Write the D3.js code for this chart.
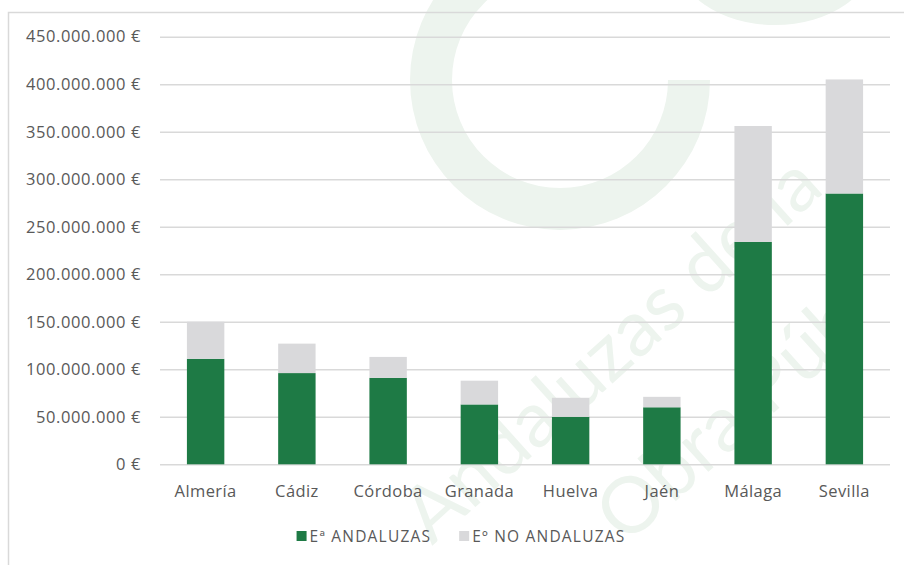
<!DOCTYPE html>
<html>
<head>
<meta charset="utf-8">
<script src="https://cdn.jsdelivr.net/npm/d3@7"></script>
<style>
  body { margin: 0; background: #fff; }
  svg { display: block; }
  text { font-family: "Open Sans", Lato, sans-serif; fill: #595959; }
</style>
</head>
<body>
<div id="chart"></div>
<script>
// provinces
const categories = ["Almería", "Cádiz", "Córdoba", "Granada", "Huelva", "Jaén", "Málaga", "Sevilla"];
// Eª ANDALUZAS (euros)
const andaluzas = [111000000, 96000000, 91000000, 63000000, 50000000, 60000000, 234000000, 285000000];
// Eº NO ANDALUZAS (euros)
const noAndaluzas = [39000000, 31000000, 22000000, 25000000, 20000000, 11000000, 122000000, 120000000];
const seriesNames = ["Eª ANDALUZAS", "Eº NO ANDALUZAS"];
const yTicks = [0, 50000000, 100000000, 150000000, 200000000, 250000000, 300000000, 350000000, 400000000, 450000000];

const W = 904, H = 565;
const colors = ["#1e7a45", "#d9d9db"];
const wmColor = "#edf4ee";

const svg = d3.select("#chart").append("svg")
    .attr("width", W)
    .attr("height", H);

// faint watermark behind the chart (logo "C" + lettering)
const wm = svg.append("g");
wm.append("path")
    .attr("transform", "translate(560,80)")
    .attr("d", d3.arc().innerRadius(108).outerRadius(150).startAngle(Math.PI / 2).endAngle(2 * Math.PI)())
    .attr("fill", wmColor);
wm.append("ellipse")
    .attr("cx", 775).attr("cy", -45).attr("rx", 100).attr("ry", 70)
    .attr("fill", wmColor);
wm.selectAll("text.wm")
  .data([{t: "Andaluzas de la", x: 432, y: 546}, {t: "Obra Púb", x: 626, y: 546}])
  .join("text")
    .attr("class", "wm")
    .attr("transform", d => `translate(${d.x},${d.y}) rotate(-42)`)
    .style("font-size", "78px").style("fill", wmColor).style("font-family", "Lato, sans-serif")
    .text(d => d.t);

// chart border
svg.append("rect")
    .attr("x", 8.5).attr("y", 12.5)
    .attr("width", 905).attr("height", 560)
    .attr("fill", "none")
    .attr("stroke", "#d9d9d9")
    .attr("stroke-width", 1.5);

const margin = {top: 36.7, left: 160, right: 14, bottom: 100.7};

const x = d3.scaleBand()
    .domain(categories)
    .range([margin.left, W - margin.right])
    .paddingInner(0.59)
    .paddingOuter(0.295);

const y = d3.scaleLinear()
    .domain([0, 450000000])
    .range([H - margin.bottom, margin.top]);

const fmt = (v) => d3.format(",")(v).replace(/,/g, ".") + " €";

// gridlines
svg.append("g")
    .attr("transform", `translate(${margin.left},0)`)
    .call(d3.axisLeft(y).tickValues(yTicks).tickSize(-(W - margin.right - margin.left)).tickFormat(""))
    .call(g => g.select(".domain").remove())
    .call(g => g.selectAll("line").attr("stroke", "#d9d9d9").attr("stroke-width", 1.5));

// y axis labels
svg.append("g")
    .attr("transform", `translate(${margin.left},0)`)
    .call(d3.axisLeft(y).tickValues(yTicks).tickSize(0).tickPadding(19).tickFormat(fmt))
    .call(g => g.select(".domain").remove())
    .call(g => g.selectAll("text")
        .attr("font-family", null)
        .style("font-size", "16.5px").style("letter-spacing", "0.6px").attr("fill", "#595959"));

// stacked bars
const stackData = categories.map((c, i) => ({cat: c, a: andaluzas[i], b: noAndaluzas[i]}));
const stack = d3.stack().keys(["a", "b"])(stackData);

svg.append("g").selectAll("g")
  .data(stack)
  .join("g")
    .attr("fill", (d, i) => colors[i])
  .selectAll("rect")
  .data(d => d)
  .join("rect")
    .attr("x", d => x(d.data.cat))
    .attr("width", x.bandwidth())
    .attr("y", d => y(d[1]))
    .attr("height", d => y(d[0]) - y(d[1]));

// x axis labels
svg.append("g")
    .attr("transform", `translate(0,${y(0)})`)
    .call(d3.axisBottom(x).tickSize(0).tickPadding(21))
    .call(g => g.select(".domain").remove())
    .call(g => g.selectAll("text")
        .attr("font-family", null)
        .style("font-size", "16.5px").style("letter-spacing", "0.4px").attr("fill", "#595959"));

// legend
const legend = svg.append("g");
let lx = 0;
seriesNames.forEach((name, i) => {
  const item = legend.append("g").attr("transform", `translate(${lx},0)`);
  item.append("rect")
      .attr("x", 0).attr("y", -5)
      .attr("width", 10).attr("height", 10)
      .attr("fill", colors[i]);
  const t = item.append("text")
      .attr("x", 13).attr("dy", "0.36em")
      .style("font-size", "15.5px")
      .style("letter-spacing", "1.2px")
      .text(name);
  lx += 13 + t.node().getComputedTextLength() + 28;
});
const lw = lx - 28;
legend.attr("transform", `translate(${461 - lw / 2},536)`);
</script>
</body>
</html>
